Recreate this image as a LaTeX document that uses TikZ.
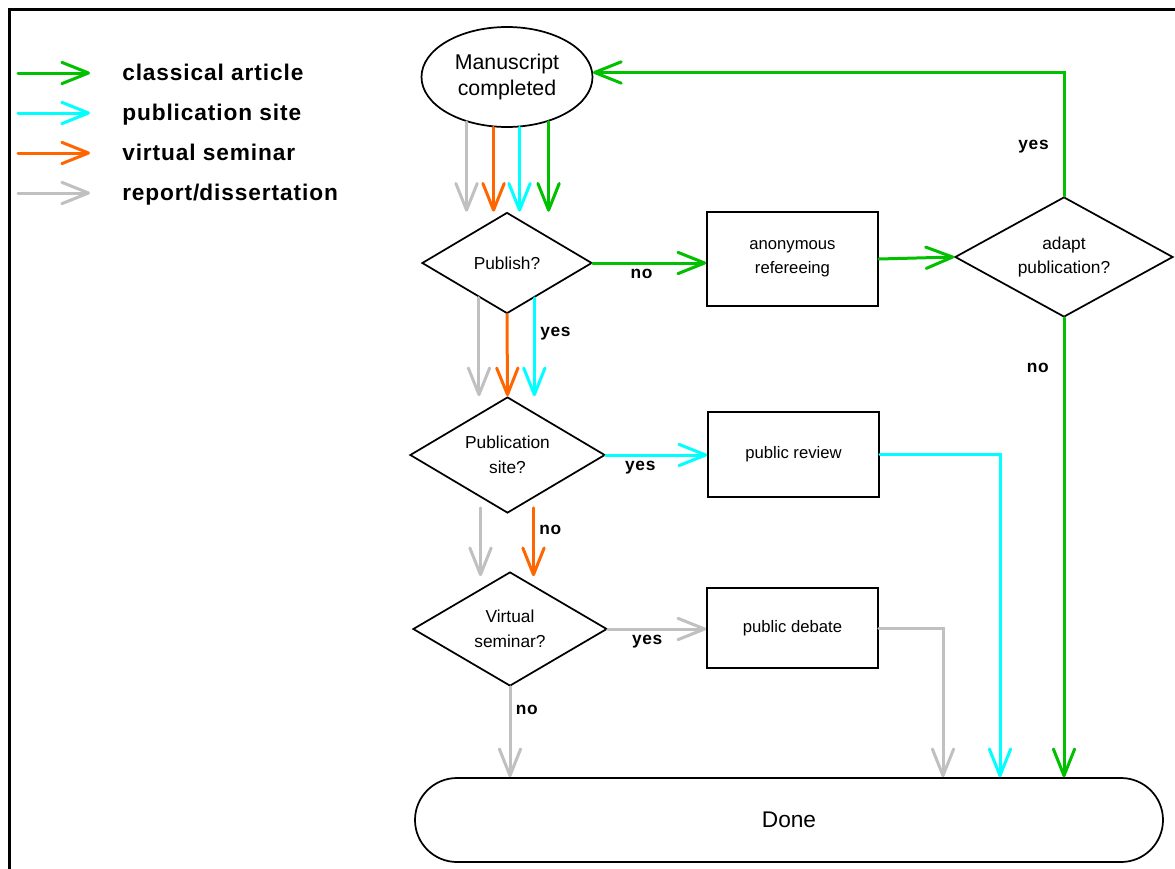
\documentclass[tikz,border=0pt]{standalone}
\usepackage{fontspec}
\setmainfont{Liberation Sans}
\usepackage{tikz}
\usetikzlibrary{arrows.meta, shapes.geometric, calc}

\definecolor{classic}{RGB}{0,192,0}
\definecolor{pubsite}{RGB}{0,255,255}
\definecolor{seminar}{RGB}{255,102,0}
\definecolor{report}{RGB}{192,192,192}

\tikzset{
	flow/.style={line width=2.25pt, line cap=round, -{Straight Barb[length=20pt, width=16pt, round]}},
	decision/.style={diamond, draw, line width=1.3pt, inner sep=0pt, shape aspect=1.7, align=center, font=\fontsize{13}{18.5}\selectfont},
	stepbox/.style={rectangle, draw, line width=1.3pt, minimum width=128.25pt, align=center, font=\fontsize{12.5}{18}\selectfont},
	answer/.style={font=\fontsize{13}{15}\selectfont\bfseries\addfontfeature{LetterSpace=4}},
	keytext/.style={anchor=base west, inner sep=0pt, font=\fontsize{17}{20}\selectfont\bfseries\addfontfeature{LetterSpace=4}},
}

\begin{document}
\begin{tikzpicture}[x=0.75pt, y=-0.75pt]
	\useasboundingbox (0,0) rectangle (1175,868);
	\clip (0,0) rectangle (1175,868);
	\draw[line width=2.25pt] (9,9) rectangle (1190,880);

	% legend
	\foreach \col/\txt [count=\i] in {classic/classical article, pubsite/publication site, seminar/virtual seminar, report/report\slash dissertation}{
		\coordinate (key\i-start) at (18,{33+40*\i});
		\coordinate (key\i-end) at (90,{33+40*\i});
		\draw[flow, \col] (key\i-start) -- (key\i-end);
		\node[keytext] (key\i) at (122,{40+40*\i}) {\txt};
	}

	% nodes
	\node[ellipse, draw, line width=1.3pt, minimum width=128.25pt, minimum height=75pt, inner sep=0pt, align=center, font=\fontsize{16}{20}\selectfont] (ms) at (507,77) {Manuscript\\completed};
	\node[decision, minimum width=127.5pt, minimum height=75.75pt] (pub) at (507,263) {Publish?};
	\node[stepbox, minimum height=70.5pt] (referee) at (792.5,259) {anonymous\\refereeing};
	\node[decision, shape aspect=1.8, minimum width=163.5pt, minimum height=90pt] (adapt) at (1064,257) {adapt\\publication?};
	\node[decision, minimum width=146.25pt, minimum height=87pt] (site) at (507.5,455) {Publication\\site?};
	\node[stepbox, minimum height=63.75pt] (review) at (793.5,454.5) {public review};
	\node[decision, minimum width=145.5pt, minimum height=85.5pt] (virt) at (510,629) {Virtual\\seminar?};
	\node[stepbox, minimum height=60pt] (debate) at (792.5,628) {public debate};
	\node[rectangle, rounded corners=31.5pt, draw, line width=1.3pt, minimum width=561pt, minimum height=63pt, font=\fontsize{17}{20}\selectfont] (done) at (789,820) {Done};

	\coordinate (drop-debate) at (943,0);
	\coordinate (drop-review) at (1000,0);

	% manuscript to publish
	\draw[flow, report] (ms.228) -- (ms.228 |- pub.north);
	\draw[flow, seminar] (ms.255.3) -- (ms.255.3 |- pub.north);
	\draw[flow, pubsite] (ms.284.7) -- (ms.284.7 |- pub.north);
	\draw[flow, classic] (ms.313) -- (ms.313 |- pub.north);

	% classical article
	\draw[flow, classic] (pub.east) -- (pub.east -| referee.west) node[answer, pos=0.43, below, black] {no};
	\draw[flow, classic] (referee.east) -- (adapt.west);
	\draw[flow, classic] (adapt.north) |- (ms.3) node[answer, pos=0.2, left=7pt, black] {yes};
	\draw[flow, classic] (adapt.south) -- (adapt.south |- done.north) node[answer, pos=0.11, left=7pt, black] {no};

	% publish to publication site
	\draw[flow, report] (pub.231.5) -- (pub.231.5 |- site.north);
	\draw[flow, seminar] (pub.south) -- (site.north);
	\draw[flow, pubsite] (pub.308.5) -- (pub.308.5 |- site.north) node[answer, pos=0.36, right, black] {yes};

	% publication site
	\draw[flow, pubsite] (site.east) -- (site.east -| review.west) node[answer, pos=0.34, below, black] {yes};
	\draw[flow, pubsite] (review.east) -| (drop-review |- done.north);
	\draw[flow, report] ([xshift=-20.25pt, yshift=4.5pt]site.south) -- ([xshift=-20.25pt, yshift=-3.75pt]virt.north -| site.south);
	\draw[flow, seminar] ([xshift=19.5pt, yshift=4.5pt]site.south) -- ([xshift=19.5pt, yshift=-3.75pt]virt.north -| site.south) node[answer, pos=0.33, right, black] {no};

	% virtual seminar
	\draw[flow, report] (virt.east) -- (virt.east -| debate.west) node[answer, pos=0.4, below, black] {yes};
	\draw[flow, report] (debate.east) -| (drop-debate |- done.north);
	\draw[flow, report] (virt.south) -- (virt.south |- done.north) node[answer, pos=0.26, right, black] {no};
\end{tikzpicture}
\end{document}
